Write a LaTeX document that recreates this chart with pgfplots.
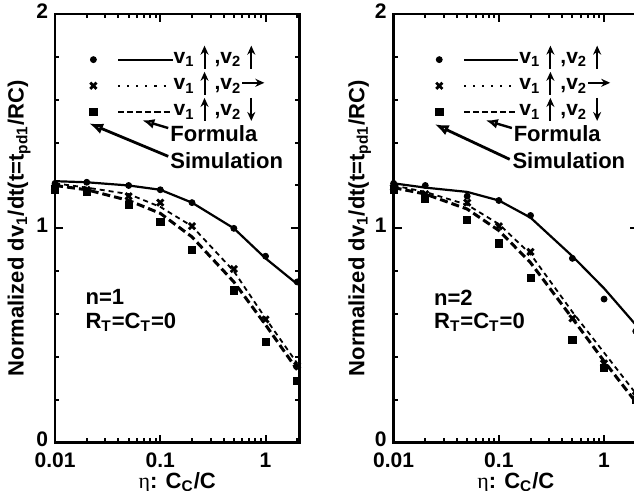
\documentclass[border=0pt]{standalone}
\usepackage{fontspec}
\setmainfont{Liberation Sans}
\newfontfamily\serifg{Liberation Serif}
\usepackage{pgfplots}
\pgfplotsset{compat=1.18}
\usetikzlibrary{arrows.meta}

% marker/line styles shared by both panels
\pgfplotsset{
  simA/.style={only marks, mark=*, mark size=1.5pt, black},
  simB/.style={only marks, mark=x, mark size=2.2pt, black, line width=1.4pt},
  simC/.style={only marks, mark=square*, mark size=1.8pt, black},
  formA/.style={black, line width=1.1pt, no marks},
  formB/.style={black, line width=0.9pt, dash pattern=on 2.5pt off 2pt, no marks},
  formC/.style={black, line width=1.5pt, dash pattern=on 4pt off 2pt, no marks},
  every axis/.append style={
    scale only axis, width=122pt, height=214pt,
    xmin=0.01, xmax=2.1, ymin=0, ymax=2,
    xtick={0.01,0.1,1}, xticklabels={0.01,0.1,1},
    minor xtick={0.02,0.03,0.04,0.05,0.06,0.07,0.08,0.09,0.2,0.3,0.4,0.5,0.6,0.7,0.8,0.9,2},
    ytick={0,1,2}, minor y tick num=4,
    tick align=inside,
    major tick length=4pt, minor tick length=2.2pt,
    every tick/.style={black, line width=1pt},
    axis line style={line width=1.3pt},
    /pgf/number format/assume math mode=true,
    tick label style={font=\fontsize{10.5}{12}\selectfont\bfseries},
    yticklabel style={yshift=1.5pt},
    xticklabel style={yshift=-1.5pt},
    label style={font=\fontsize{11}{13}\selectfont\bfseries},
    xlabel={{\serifg\mdseries η}: C\textsubscript{C}/C},
    ylabel={Normalized dv\textsubscript{1}/dt(t=t\textsubscript{pd1}/RC)},
    xlabel style={yshift=4.5pt},
    ylabel style={yshift=-4pt},
    legend cell align=left,
    legend style={draw=none, fill=none, anchor=north west, row sep=4pt,
      font=\fontsize{10.5}{12}\selectfont\bfseries,
      nodes={inner xsep=0pt, inner ysep=1pt}},
  },
  myimgA/.style={legend image code/.code={
      \draw[mark=*, mark size=1.5pt, black] plot coordinates {(0pt,0pt)};
      \draw[black, line width=1pt] (12.5pt,0pt) -- (39.5pt,0pt);}},
  myimgB/.style={legend image code/.code={
      \draw[mark=x, mark size=2.2pt, black, line width=1.4pt] plot coordinates {(0pt,0pt)};
      \draw[black, line width=1pt, dash pattern=on 1pt off 3.5pt] (12.5pt,0pt) -- (39.5pt,0pt);}},
  myimgC/.style={legend image code/.code={
      \draw[mark=square*, mark size=1.9pt, black] plot coordinates {(0pt,0pt)};
      \draw[black, line width=1.1pt, dash pattern=on 3pt off 1.5pt] (12.5pt,0pt) -- (39.5pt,0pt);}},
}

\newsavebox\upbox
\newsavebox\rtbox
\newsavebox\dnbox
\newcommand{\myup}{\hspace{3pt}\smash{\usebox\upbox}\hspace{3pt}}
\newcommand{\mydn}{\hspace{3pt}\smash{\usebox\dnbox}}
\newcommand{\myrt}{\smash{\usebox\rtbox}}

\begin{document}
\sbox\upbox{\tikz[baseline=0pt]\draw[line width=1pt,-{Stealth[length=4.5pt,width=4pt]}] (0,-2.5pt) -- (0,9pt);}%
\sbox\rtbox{\tikz[baseline=0pt]\draw[line width=1pt,-{Stealth[length=4.5pt,width=4pt]}] (0,3.5pt) -- (11pt,3.5pt);}%
\sbox\dnbox{\tikz[baseline=0pt]\draw[line width=1pt,-{Stealth[length=4.5pt,width=4pt]}] (0,9pt) -- (0,-2.5pt);}%
\begin{tikzpicture}
% ---------- n = 1 ----------
\begin{semilogxaxis}[at={(0pt,0pt)}, anchor=south west,
    legend style={at={(rel axis cs:0.115,0.925)}}]
  \addplot[formA, forget plot] coordinates {(0.01,1.22)(0.02,1.215)(0.05,1.20)(0.1,1.18)(0.2,1.12)(0.5,1.00)(1,0.86)(2,0.74)};
  \addplot[formB, forget plot] coordinates {(0.01,1.21)(0.02,1.19)(0.05,1.16)(0.1,1.10)(0.2,1.01)(0.5,0.80)(1,0.58)(2,0.37)};
  \addplot[formC, forget plot] coordinates {(0.01,1.20)(0.02,1.18)(0.05,1.13)(0.1,1.07)(0.2,0.96)(0.5,0.75)(1,0.55)(2,0.34)};
  \addplot[simA, forget plot] coordinates {(0.01,1.21)(0.02,1.215)(0.05,1.20)(0.1,1.18)(0.2,1.12)(0.5,1.00)(1,0.87)(2,0.75)};
  \addplot[simB, forget plot] coordinates {(0.01,1.19)(0.02,1.18)(0.05,1.15)(0.1,1.12)(0.2,1.01)(0.5,0.81)(1,0.575)(2,0.36)};
  \addplot[simC, forget plot] coordinates {(0.01,1.18)(0.02,1.17)(0.05,1.11)(0.1,1.03)(0.2,0.90)(0.5,0.71)(1,0.47)(2,0.29)};
  \addlegendimage{myimgA}\addlegendentry{v\textsubscript{1}\myup,v\textsubscript{2}\myup}
  \addlegendimage{myimgB}\addlegendentry{v\textsubscript{1}\myup,v\textsubscript{2}\myrt}
  \addlegendimage{myimgC}\addlegendentry{v\textsubscript{1}\myup,v\textsubscript{2}\mydn}
  \draw[line width=1.2pt, -{Latex[open, length=6pt, width=5pt]}] (rel axis cs:0.463,0.734) -- (rel axis cs:0.357,0.752);
  \draw[line width=1.4pt, -{Latex[open, length=7pt, width=5.5pt]}] (rel axis cs:0.463,0.668) -- (rel axis cs:0.139,0.745);
  \node[anchor=west, inner sep=0pt, font=\fontsize{11}{13}\selectfont\bfseries] at (rel axis cs:0.470,0.722) {Formula};
  \node[anchor=west, inner sep=0pt, font=\fontsize{11}{13}\selectfont\bfseries] at (rel axis cs:0.470,0.657) {Simulation};
  \node[anchor=west, inner sep=0pt, font=\fontsize{11}{13}\selectfont\bfseries] at (rel axis cs:0.123,0.339) {n=1};
  \node[anchor=west, inner sep=0pt, font=\fontsize{11}{13}\selectfont\bfseries] at (rel axis cs:0.123,0.280) {R\textsubscript{T}=C\textsubscript{T}=0};
\end{semilogxaxis}
% ---------- n = 2 ----------
\begin{semilogxaxis}[at={(169pt,0pt)}, anchor=south west,
    ylabel style={yshift=-1pt},
    legend style={at={(rel axis cs:0.145,0.925)}}]
  \addplot[formA, forget plot] coordinates {(0.01,1.21)(0.02,1.19)(0.05,1.17)(0.1,1.13)(0.2,1.05)(0.5,0.87)(1,0.72)(2,0.55)};
  \addplot[formB, forget plot] coordinates {(0.01,1.20)(0.02,1.17)(0.05,1.11)(0.1,1.02)(0.2,0.88)(0.5,0.61)(1,0.42)(2,0.23)};
  \addplot[formC, forget plot] coordinates {(0.01,1.19)(0.02,1.16)(0.05,1.09)(0.1,0.99)(0.2,0.84)(0.5,0.58)(1,0.38)(2,0.19)};
  \addplot[simA, forget plot] coordinates {(0.01,1.21)(0.02,1.20)(0.05,1.15)(0.1,1.13)(0.2,1.06)(0.5,0.86)(1,0.67)(2,0.52)};
  \addplot[simB, forget plot] coordinates {(0.01,1.19)(0.02,1.16)(0.05,1.12)(0.1,1.01)(0.2,0.89)(0.5,0.58)(1,0.37)(2,0.22)};
  \addplot[simC, forget plot] coordinates {(0.01,1.18)(0.02,1.14)(0.05,1.04)(0.1,0.93)(0.2,0.77)(0.5,0.48)(1,0.35)(2,0.20)};
  \addlegendimage{myimgA}\addlegendentry{v\textsubscript{1}\myup,v\textsubscript{2}\myup}
  \addlegendimage{myimgB}\addlegendentry{v\textsubscript{1}\myup,v\textsubscript{2}\myrt}
  \addlegendimage{myimgC}\addlegendentry{v\textsubscript{1}\myup,v\textsubscript{2}\mydn}
  \draw[line width=1.2pt, -{Latex[open, length=6pt, width=5pt]}] (rel axis cs:0.484,0.734) -- (rel axis cs:0.377,0.752);
  \draw[line width=1.4pt, -{Latex[open, length=7pt, width=5.5pt]}] (rel axis cs:0.475,0.661) -- (rel axis cs:0.168,0.743);
  \node[anchor=west, inner sep=0pt, font=\fontsize{11}{13}\selectfont\bfseries] at (rel axis cs:0.490,0.722) {Formula};
  \node[anchor=west, inner sep=0pt, font=\fontsize{11}{13}\selectfont\bfseries] at (rel axis cs:0.485,0.657) {Simulation};
  \node[anchor=west, inner sep=0pt, font=\fontsize{11}{13}\selectfont\bfseries] at (rel axis cs:0.164,0.339) {n=2};
  \node[anchor=west, inner sep=0pt, font=\fontsize{11}{13}\selectfont\bfseries] at (rel axis cs:0.164,0.280) {R\textsubscript{T}=C\textsubscript{T}=0};
\end{semilogxaxis}
\pgfresetboundingbox
\useasboundingbox (-27.5pt,-24pt) rectangle (289pt,221pt);
\end{tikzpicture}
\end{document}
